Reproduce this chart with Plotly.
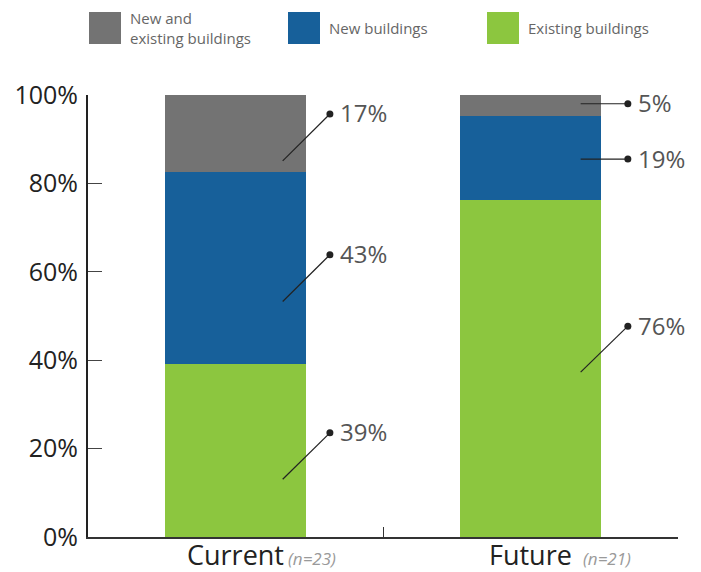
import plotly.graph_objects as go

# Survey responses: which building stock the work focuses on
periods = ["Current", "Future"]
sample_sizes = [23, 21]
existing_counts = [9, 16]
new_counts = [10, 4]
both_counts = [4, 1]

series_names = ["Existing buildings", "New buildings", "New and\nexisting buildings"]
series_colors = ["#8cc63f", "#17609a", "#737373"]

y_ticks = [0, 20, 40, 60, 80, 100]
y_tick_labels = ["0%", "20%", "40%", "60%", "80%", "100%"]

W, H = 701, 572
M_L, M_R, M_T, M_B = 88, 23, 95, 35

# share of respondents per period, in percent
def pct(counts):
    return [100.0 * c / n for c, n in zip(counts, sample_sizes)]

series_values = [pct(existing_counts), pct(new_counts), pct(both_counts)]

fig = go.Figure()
for name, vals, col in zip(series_names, series_values, series_colors):
    fig.add_trace(go.Bar(
        x=periods, y=vals, name=name.replace("\n", " "),
        marker=dict(color=col, line=dict(width=0)),
        width=0.48, showlegend=False, hoverinfo="skip",
    ))

# Leader lines with dots and percentage labels
# (start offset from segment centre, rise of the line), per period
leader_style = {
    "Current": [(-6.5, 10.5), (-7.6, 10.6), (-6.2, 10.6)],
    "Future": [(-0.8, 10.4), (-0.2, 0.0), (0.4, 0.0)],
}
x_start = {"Current": 0.16, "Future": 0.17}
x_dot = {"Current": 0.32, "Future": 0.33}
for i, p in enumerate(periods):
    base = 0.0
    for k, vals in enumerate(series_values):
        v = vals[i]
        mid = base + v / 2
        base += v
        dy0, rise = leader_style[p][k]
        y0 = mid + dy0
        y1 = y0 + rise
        x0 = i + x_start[p]
        x1 = i + x_dot[p]
        fig.add_shape(type="line", xref="x", yref="y", x0=x0, y0=y0, x1=x1, y1=y1,
                      line=dict(color="#222222", width=1.2))
        fig.add_shape(type="circle", xref="x", yref="y",
                      xsizemode="pixel", ysizemode="pixel",
                      xanchor=x1, yanchor=y1, x0=-3.5, x1=3.5, y0=-3.5, y1=3.5,
                      fillcolor="#222222", line=dict(width=0))
        fig.add_annotation(x=x1, y=y1, xref="x", yref="y", text=f"{round(v)}%",
                           showarrow=False, xanchor="left", yanchor="middle",
                           xshift=8, yshift=1,
                           font=dict(family="Open Sans", size=24, color="#555555"))

# period names with their sample sizes below the axis
for i, (p, n) in enumerate(zip(periods, sample_sizes)):
    fig.add_annotation(x=i, y=-0.04, xref="x", yref="paper",
                       text=p, showarrow=False,
                       xanchor="center", yanchor="middle",
                       font=dict(family="Open Sans", size=27, color="#222222"))
    fig.add_annotation(x=i + 0.17, y=-0.048, xref="x", yref="paper",
                       text=f"<i>(n={n})</i>", showarrow=False,
                       xanchor="left", yanchor="middle",
                       font=dict(family="Open Sans", size=17, color="#9a9a9a"))

# Legend drawn as swatches with captions above the plot
pw, ph = W - M_L - M_R, H - M_T - M_B
def px_x(v):
    return (v - M_L) / pw
def px_y(v):
    return (H - M_B - v) / ph

legend_order = [2, 1, 0]
legend_left = [89, 288, 487]
for idx, left in zip(legend_order, legend_left):
    fig.add_shape(type="rect", xref="paper", yref="paper",
                  x0=px_x(left), x1=px_x(left + 32), y0=px_y(44), y1=px_y(12),
                  fillcolor=series_colors[idx], line=dict(width=0))
    fig.add_annotation(x=px_x(left + 39), y=px_y(28), xref="paper", yref="paper",
                       text=series_names[idx].replace("\n", "<br>"), showarrow=False,
                       xanchor="left", yanchor="middle", align="left",
                       font=dict(family="Open Sans", size=15, color="#666666"))

fig.update_layout(
    width=W, height=H,
    margin=dict(l=M_L, r=M_R, t=M_T, b=M_B, autoexpand=False),
    paper_bgcolor="white", plot_bgcolor="white",
    barmode="stack", bargap=0.5,
    font=dict(family="Open Sans", color="#222222"),
    showlegend=False,
)
fig.update_xaxes(
    range=[-0.5, 1.5], tickson="boundaries", ticks="inside", ticklen=10,
    tickcolor="#333333", tickwidth=1.2, showticklabels=False,
    showline=True, linecolor="#333333", linewidth=1.6,
    showgrid=False, zeroline=False, automargin=False,
)
fig.update_yaxes(
    range=[0, 100], tickmode="array", tickvals=y_ticks, ticktext=y_tick_labels,
    ticks="inside", ticklen=14, tickcolor="#444444", tickwidth=1.2,
    showline=True, linecolor="#222222", linewidth=2,
    showgrid=False, zeroline=False, automargin=False, ticklabelstandoff=3,
    tickfont=dict(family="Open Sans", size=25, color="#222222"),
)

fig.write_html("out.html")
